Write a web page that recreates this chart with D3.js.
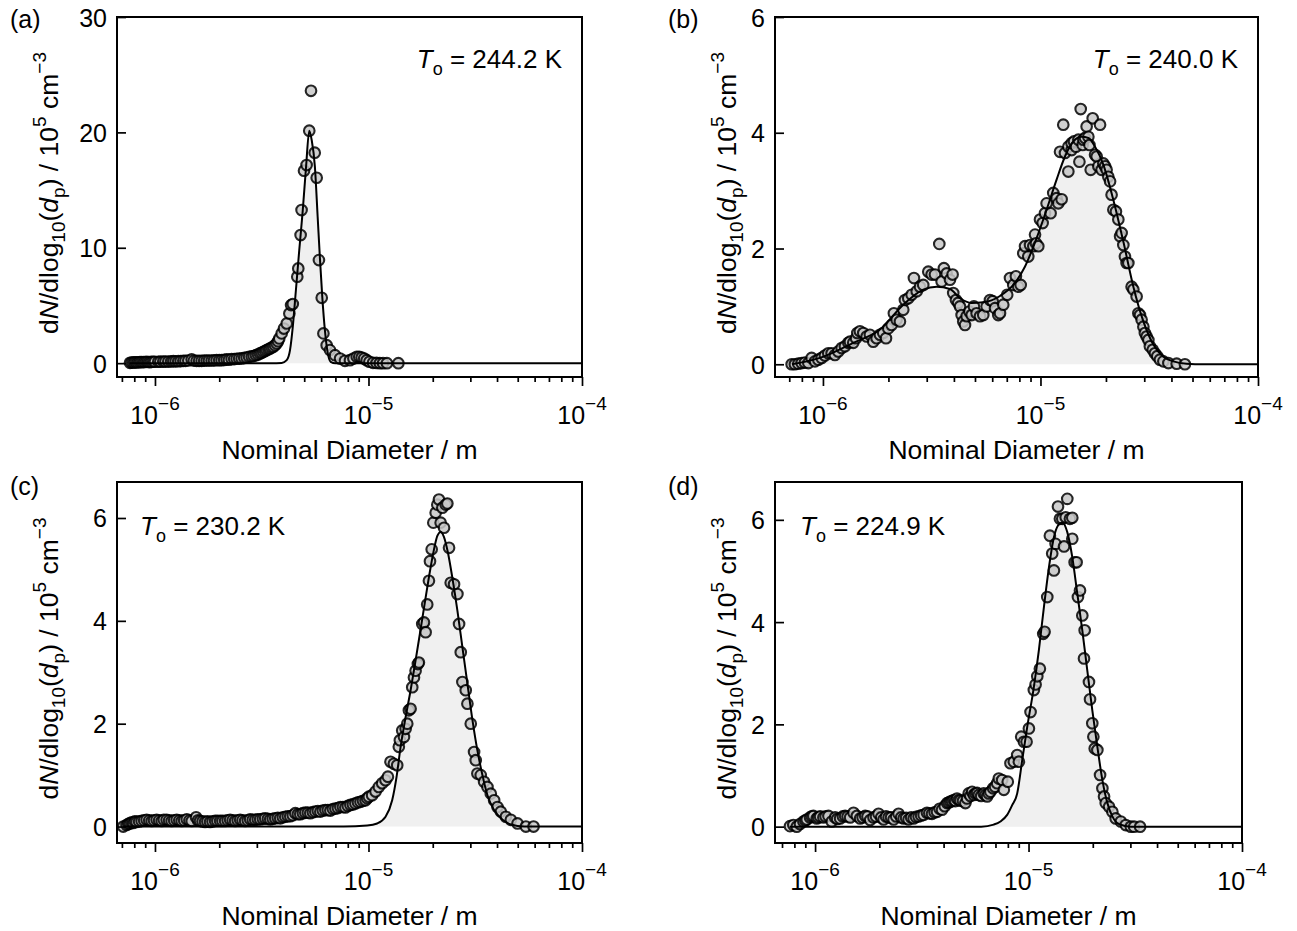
<!DOCTYPE html>
<html><head><meta charset="utf-8">
<script src="https://cdn.jsdelivr.net/npm/d3@7/dist/d3.min.js"></script>
<style>
body{margin:0;background:#fff}
svg{display:block}
text{font-family:"Liberation Sans",Arial,Helvetica,sans-serif;fill:#000}
</style>
</head><body>
<svg id="fig" width="1297" height="931"></svg>
<script>
// ---------- DATA (diameter in µm, dN/dlog10(dp) in 10^5 cm^-3) ----------
const panelLetters = ["(a)", "(b)", "(c)", "(d)"];
const onsetTemps = ["244.2", "240.0", "230.2", "224.9"];
const xMajorExponents = [-6, -5, -4];
const yTicksA = [0, 10, 20, 30];
const yTicksB = [0, 2, 4, 6];
const yTicksC = [0, 2, 4, 6];
const yTicksD = [0, 2, 4, 6];

const pointsA = [[0.764,0.03],[0.778,0.05],[0.792,0.06],[0.806,0.07],[0.821,0.06],[0.836,0.08],[0.851,0.09],[0.866,0.09],[0.882,0.09],[0.898,0.1],[0.914,0.12],[0.93,0.1],[0.947,0.09],[0.964,0.11],[0.982,0.12],[1.0,0.12],[1.036,0.12],[1.06,0.13],[1.094,0.14],[1.12,0.14],[1.155,0.14],[1.19,0.15],[1.219,0.17],[1.25,0.16],[1.286,0.17],[1.32,0.18],[1.358,0.2],[1.39,0.2],[1.433,0.23],[1.485,0.32],[1.52,0.22],[1.567,0.2],[1.61,0.2],[1.654,0.2],[1.70,0.22],[1.746,0.23],[1.79,0.23],[1.842,0.23],[1.89,0.24],[1.944,0.26],[2.0,0.26],[2.052,0.26],[2.11,0.28],[2.166,0.32],[2.22,0.3],[2.286,0.35],[2.35,0.35],[2.413,0.38],[2.48,0.4],[2.547,0.41],[2.62,0.45],[2.688,0.49],[2.76,0.55],[2.837,0.58],[2.9,0.62],[2.972,0.69],[3.04,0.75],[3.103,0.84],[3.16,0.9],[3.217,0.98],[3.28,1.05],[3.334,1.13],[3.4,1.2],[3.457,1.27],[3.52,1.35],[3.583,1.42],[3.65,1.55],[3.715,1.71],[3.77,1.9],[3.82,2.14],[3.92,2.58],[4.02,3.0],[4.14,3.44],[4.26,4.31],[4.34,5.03],[4.42,5.12],[4.64,7.49],[4.69,8.21],[4.81,11.1],[4.86,13.27],[4.99,16.68],[5.13,17.17],[5.28,20.15],[5.38,23.6],[5.60,18.24],[5.72,16.07],[5.86,8.93],[6.04,5.66],[6.15,2.58],[6.37,1.56],[6.6,1.13],[6.97,0.69],[7.36,0.4],[7.76,0.2],[8.19,0.26],[8.5,0.4],[8.81,0.55],[9.05,0.55],[9.29,0.49],[9.55,0.4],[9.81,0.26],[10.1,0.12],[10.5,0.03],[10.9,0.02],[11.3,0],[11.7,0],[12.2,0],[13.8,0]];
const fitA = [[0.76,0],[3.5,0],[3.92,0.02],[4.14,0.26],[4.29,1.13],[4.42,3.15],[4.57,6.3],[4.74,9.8],[4.92,13.2],[5.1,17.0],[5.28,20.15],[5.42,19.34],[5.61,17.03],[5.78,12.69],[5.93,8.93],[6.08,5.66],[6.25,2.86],[6.41,1.13],[6.65,0.12],[7.0,0],[100,0]];

const pointsB = [[0.718,0],[0.743,0],[0.770,0.01],[0.798,0.02],[0.826,0.03],[0.857,0.02],[0.887,0.11],[0.919,0.05],[0.952,0.08],[0.986,0.11],[1.021,0.15],[1.058,0.19],[1.096,0.19],[1.135,0.16],[1.176,0.22],[1.219,0.28],[1.262,0.31],[1.308,0.37],[1.331,0.39],[1.378,0.37],[1.419,0.45],[1.439,0.54],[1.479,0.57],[1.533,0.54],[1.588,0.48],[1.644,0.51],[1.703,0.39],[1.765,0.45],[1.828,0.51],[1.893,0.54],[1.949,0.45],[1.997,0.62],[2.069,0.68],[2.119,0.88],[2.181,0.77],[2.259,0.74],[2.340,0.94],[2.382,1.11],[2.467,1.14],[2.557,1.20],[2.620,1.49],[2.698,1.26],[2.793,1.34],[2.891,1.37],[3.050,1.60],[3.159,1.55],[3.273,1.55],[3.427,2.08],[3.512,1.43],[3.598,1.66],[3.703,1.57],[3.837,1.46],[3.945,1.55],[3.972,1.23],[4.088,1.11],[4.188,1.06],[4.266,1.00],[4.340,0.85],[4.416,0.74],[4.498,0.68],[4.576,0.83],[4.710,0.91],[4.826,0.85],[4.943,1.00],[5.087,0.88],[5.272,0.83],[5.458,0.85],[5.655,1.00],[5.861,1.11],[6.026,1.09],[6.180,0.97],[6.397,0.85],[6.516,0.88],[6.745,1.03],[7.032,1.20],[7.244,1.49],[7.499,1.37],[7.710,1.52],[7.907,1.34],[8.110,1.37],[8.337,1.92],[8.492,2.04],[8.790,1.86],[8.954,2.06],[9.272,2.04],[9.440,2.24],[9.537,2.09],[9.772,2.04],[9.95,2.50],[10.23,2.44],[10.49,2.61],[10.67,2.78],[11.13,2.61],[11.45,2.96],[11.86,2.87],[12.08,2.78],[12.30,3.67],[12.51,2.85],[12.73,4.14],[12.96,3.65],[13.43,3.33],[13.43,3.76],[13.90,3.70],[13.9,3.82],[14.26,3.85],[14.56,3.76],[14.93,3.88],[15.10,3.50],[15.31,4.41],[15.63,3.79],[15.74,3.88],[16.03,3.91],[16.30,4.11],[16.60,3.93],[16.79,3.79],[17.02,3.36],[17.38,4.25],[17.82,3.62],[18.13,3.59],[18.45,3.42],[18.79,4.14],[19.10,3.36],[19.45,3.47],[19.81,3.42],[20.14,3.36],[20.51,3.24],[20.89,3.16],[21.23,2.93],[21.63,2.67],[22.23,2.64],[22.80,2.50],[23.23,2.21],[23.61,2.27],[24.04,2.06],[24.45,1.86],[24.89,1.75],[25.35,1.75],[26.24,1.34],[26.73,1.29],[27.67,1.17],[28.18,0.88],[28.66,0.85],[29.17,0.77],[29.72,0.65],[30.20,0.54],[30.76,0.48],[31.33,0.42],[31.84,0.31],[32.81,0.25],[33.57,0.19],[34.43,0.14],[35.40,0.08],[36.73,0.05],[38.73,0.02],[42.27,0.01],[46.13,0]];
const fitB = [[0.72,0],[0.969,0.11],[1.378,0.37],[1.828,0.60],[2.340,1.03],[2.891,1.29],[3.332,1.34],[3.837,1.30],[4.266,1.14],[4.826,1.06],[5.458,1.07],[6.516,1.18],[7.499,1.37],[8.492,1.69],[9.60,2.18],[10.67,2.67],[11.86,3.19],[12.96,3.59],[14.16,3.85],[15.45,3.93],[16.60,3.91],[17.82,3.76],[19.45,3.45],[21.63,2.84],[24.04,2.12],[26.73,1.34],[29.72,0.74],[33.02,0.34],[36.73,0.13],[40.83,0.05],[46.99,0.01],[56.1,0],[100,0]];

const pointsC = [[0.710,0],[0.736,0.03],[0.75,0.05],[0.763,0.06],[0.777,0.08],[0.791,0.07],[0.805,0.1],[0.820,0.09],[0.843,0.1],[0.866,0.11],[0.89,0.12],[0.914,0.13],[0.94,0.12],[0.965,0.11],[0.99,0.12],[1.018,0.13],[1.046,0.12],[1.075,0.11],[1.10,0.13],[1.134,0.13],[1.165,0.12],[1.197,0.11],[1.23,0.12],[1.264,0.13],[1.30,0.12],[1.334,0.11],[1.37,0.12],[1.409,0.14],[1.45,0.12],[1.486,0.11],[1.558,0.18],[1.59,0.12],[1.626,0.11],[1.67,0.1],[1.717,0.09],[1.76,0.1],[1.812,0.09],[1.86,0.1],[1.913,0.11],[1.96,0.11],[2.019,0.11],[2.07,0.11],[2.131,0.11],[2.19,0.12],[2.249,0.13],[2.31,0.12],[2.374,0.11],[2.44,0.12],[2.506,0.13],[2.57,0.12],[2.645,0.11],[2.72,0.12],[2.792,0.14],[2.87,0.13],[2.948,0.13],[3.03,0.14],[3.111,0.14],[3.2,0.15],[3.284,0.16],[3.38,0.15],[3.467,0.14],[3.56,0.15],[3.659,0.16],[3.76,0.17],[3.862,0.16],[3.97,0.18],[4.076,0.19],[4.19,0.2],[4.303,0.20],[4.42,0.22],[4.542,0.26],[4.67,0.24],[4.794,0.24],[4.93,0.26],[5.060,0.27],[5.2,0.27],[5.341,0.26],[5.49,0.28],[5.637,0.29],[5.79,0.3],[5.950,0.29],[6.11,0.31],[6.281,0.32],[6.45,0.32],[6.629,0.31],[6.81,0.34],[6.997,0.35],[7.19,0.36],[7.386,0.38],[7.59,0.38],[7.795,0.37],[8.0,0.4],[8.228,0.42],[8.45,0.43],[8.685,0.45],[8.93,0.47],[9.171,0.48],[9.42,0.5],[9.68,0.51],[9.86,0.55],[10.04,0.58],[10.40,0.61],[10.79,0.68],[11.18,0.77],[11.59,0.84],[12.02,0.90],[12.33,0.97],[12.68,1.26],[13.15,1.22],[13.63,1.19],[13.87,1.55],[14.03,1.68],[14.39,1.87],[14.66,1.74],[14.93,1.90],[15.19,2.00],[15.46,2.26],[15.75,2.29],[16.03,2.71],[16.33,2.90],[16.62,3.03],[17.04,3.16],[17.22,3.19],[17.86,3.94],[18.19,3.97],[18.52,3.78],[18.84,4.32],[19.19,4.78],[19.41,5.16],[19.77,5.39],[20.12,5.91],[20.64,6.10],[21.01,6.26],[21.38,6.36],[21.78,5.91],[22.18,6.20],[22.58,5.81],[22.99,6.26],[23.41,6.28],[23.84,5.42],[24.27,4.74],[25.16,4.71],[26.09,4.52],[26.56,3.94],[27.05,3.39],[27.53,2.81],[28.54,2.65],[29.06,2.39],[30.13,2.00],[31.23,1.45],[31.79,1.29],[32.36,1.03],[33.55,1.00],[34.79,0.87],[36.07,0.77],[37.40,0.64],[38.77,0.51],[40.19,0.38],[41.67,0.29],[43.98,0.19],[46.42,0.13],[49.89,0.06],[54.6,0],[59.3,0]];
const fitC = [[0.71,0],[7.66,0],[9.86,0.02],[10.98,0.06],[12.02,0.19],[12.91,0.51],[13.54,0.97],[14.14,1.55],[14.93,2.13],[15.75,2.65],[16.62,3.23],[17.55,3.84],[18.52,4.45],[19.41,4.97],[20.27,5.39],[21.01,5.65],[21.78,5.73],[22.58,5.63],[23.55,5.33],[24.70,4.84],[26.09,4.20],[27.53,3.49],[29.06,2.78],[30.69,2.07],[32.36,1.48],[34.17,1.00],[36.07,0.61],[38.77,0.32],[42.46,0.13],[46.42,0.04],[53.6,0],[100,0]];

const pointsD = [[0.763,0.01],[0.791,0.03],[0.820,0],[0.850,0.05],[0.882,0.10],[0.9,0.12],[0.914,0.14],[0.947,0.18],[0.965,0.2],[0.982,0.21],[1.018,0.16],[1.035,0.18],[1.056,0.20],[1.094,0.18],[1.12,0.2],[1.155,0.21],[1.197,0.10],[1.241,0.18],[1.27,0.15],[1.310,0.16],[1.35,0.2],[1.383,0.21],[1.42,0.2],[1.460,0.18],[1.514,0.27],[1.569,0.21],[1.626,0.16],[1.67,0.18],[1.717,0.21],[1.76,0.2],[1.812,0.13],[1.878,0.18],[1.93,0.2],[1.983,0.25],[2.04,0.18],[2.093,0.14],[2.15,0.2],[2.210,0.18],[2.27,0.18],[2.332,0.14],[2.4,0.2],[2.461,0.25],[2.53,0.18],[2.598,0.16],[2.67,0.17],[2.742,0.14],[2.82,0.18],[2.895,0.16],[2.97,0.19],[3.055,0.20],[3.14,0.22],[3.226,0.23],[3.343,0.27],[3.43,0.26],[3.530,0.25],[3.63,0.28],[3.726,0.29],[3.83,0.35],[3.933,0.33],[4.05,0.4],[4.152,0.46],[4.23,0.47],[4.303,0.49],[4.38,0.5],[4.460,0.52],[4.54,0.5],[4.623,0.55],[4.71,0.52],[4.794,0.51],[4.93,0.5],[5.060,0.46],[5.15,0.55],[5.244,0.65],[5.34,0.6],[5.439,0.68],[5.54,0.62],[5.637,0.65],[5.74,0.66],[5.844,0.62],[6.0,0.6],[6.169,0.65],[6.28,0.62],[6.397,0.59],[6.51,0.65],[6.63,0.68],[6.826,0.75],[6.97,0.78],[7.125,0.85],[7.255,0.94],[7.523,0.91],[7.66,0.72],[7.993,0.88],[8.228,1.24],[8.532,1.27],[8.85,1.40],[9.01,1.27],[9.24,1.76],[9.51,1.66],[9.79,1.66],[10.04,1.92],[10.22,2.24],[10.59,2.67],[10.79,2.78],[10.99,2.94],[11.30,3.09],[11.72,3.77],[11.89,3.81],[12.24,4.49],[12.59,5.69],[12.91,5.34],[13.15,5.01],[13.39,5.53],[13.74,6.26],[14.03,6.02],[14.39,6.02],[14.66,5.48],[14.93,6.05],[15.19,6.41],[15.63,6.02],[16.03,6.04],[16.03,5.63],[16.44,5.17],[16.80,5.17],[17.04,4.49],[17.42,4.62],[17.86,4.13],[18.32,3.84],[18.19,3.29],[19.19,2.83],[19.41,2.49],[19.89,2.02],[20.12,1.76],[20.42,1.53],[21.01,1.50],[21.63,1.01],[22.18,0.75],[22.58,0.59],[22.99,0.46],[23.84,0.39],[24.70,0.29],[25.60,0.16],[27.05,0.10],[28.54,0.03],[30.13,0],[31.23,0],[33.32,0]];
const fitD = [[0.76,0],[6.0,0],[6.87,0.04],[7.386,0.10],[7.94,0.23],[8.38,0.42],[8.85,0.65],[9.34,1.30],[9.86,1.95],[10.59,2.73],[11.18,3.45],[11.80,4.29],[12.46,5.07],[13.15,5.66],[13.74,5.89],[14.39,5.95],[15.19,5.76],[16.03,5.27],[16.93,4.55],[17.86,3.84],[18.84,3.06],[19.89,2.28],[21.01,1.56],[22.18,0.91],[23.41,0.46],[24.70,0.20],[26.56,0.05],[30.13,0],[100,0]];

// ---------- LAYOUT ----------
const UM = 1e-6;
const FS_XTICK = 25, FS_YTICK = 25, FS_SUP = 19, FS_LABEL = 26.5, FS_YLABEL = 26.5, FS_YSUB = 19;
const panels = [
  {id:"a", points:pointsA, fit:fitA, yTicks:yTicksA, left:117, right:582, top:17, bottom:377, xmin:6.64e-7, ymin:-1.2, ymax:30,
   letterX:10, letterY:28, tempX:562, tempY:68, tempAnchor:"end", ylabX:58},
  {id:"b", points:pointsB, fit:fitB, yTicks:yTicksB, left:775, right:1258, top:17, bottom:377, xmin:6.02e-7, ymin:-0.22, ymax:6,
   letterX:668, letterY:28, tempX:1238, tempY:68, tempAnchor:"end", ylabX:736},
  {id:"c", points:pointsC, fit:fitC, yTicks:yTicksC, left:117, right:582, top:482, bottom:843, xmin:6.64e-7, ymin:-0.32, ymax:6.7,
   letterX:10, letterY:495, tempX:140, tempY:535, tempAnchor:"start", ylabX:58},
  {id:"d", points:pointsD, fit:fitD, yTicks:yTicksD, left:775, right:1242, top:482, bottom:843, xmin:6.49e-7, ymin:-0.32, ymax:6.74,
   letterX:668, letterY:495, tempX:800, tempY:535, tempAnchor:"start", ylabX:736}
];

const svg = d3.select("#fig");

panels.forEach((p, i) => {
  const x = d3.scaleLog().domain([p.xmin, 1e-4]).range([p.left, p.right]);
  const y = d3.scaleLinear().domain([p.ymin, p.ymax]).range([p.bottom, p.top]);
  const g = svg.append("g");
  const clipId = "clip-" + p.id;
  svg.append("clipPath").attr("id", clipId).append("rect")
    .attr("x", p.left).attr("y", p.top).attr("width", p.right - p.left).attr("height", p.bottom - p.top);
  const plot = g.append("g").attr("clip-path", `url(#${clipId})`);

  const area = d3.area().x(d => x(d[0] * UM)).y0(y(0)).y1(d => y(d[1])).curve(d3.curveMonotoneX);
  const line = d3.line().x(d => x(d[0] * UM)).y(d => y(d[1])).curve(d3.curveMonotoneX);

  plot.append("path").datum(p.fit).attr("d", area).attr("fill", "#f0f0f0");
  plot.append("g").selectAll("circle").data(p.points).join("circle")
    .attr("cx", d => x(d[0] * UM)).attr("cy", d => y(d[1])).attr("r", 5.3)
    .attr("fill", "#c8c8c8").attr("stroke", "#000").attr("stroke-width", 2.1).attr("opacity", 0.85);
  plot.append("path").datum(p.fit).attr("d", line).attr("fill", "none")
    .attr("stroke", "#000").attr("stroke-width", 2);

  // x axis
  const major = xMajorExponents.map(e => Math.pow(10, e));
  const minor = [];
  for (let e = -7; e <= -5; e++) for (let k = 2; k <= 9; k++) {
    const v = k * Math.pow(10, e);
    if (v >= p.xmin && v <= 1e-4) minor.push(v);
  }
  const styleAxis = s => { s.select(".domain").remove(); s.selectAll("line").attr("stroke", "#000").attr("stroke-width", 1.7); };
  g.append("g").attr("transform", `translate(0,${p.bottom})`)
    .call(d3.axisBottom(x).tickValues(major).tickSize(9).tickFormat(() => "")).call(styleAxis);
  g.append("g").attr("transform", `translate(0,${p.bottom})`)
    .call(d3.axisBottom(x).tickValues(minor).tickSize(5).tickFormat(() => "")).call(styleAxis);
  xMajorExponents.forEach((e, j) => {
    const t = g.append("text").attr("x", x(major[j])).attr("y", p.bottom + 47)
      .attr("text-anchor", "middle").attr("font-size", FS_XTICK);
    t.append("tspan").text("10");
    t.append("tspan").attr("dy", -14).attr("font-size", FS_SUP).text("\u2212" + Math.abs(e));
  });

  // y axis (ticks inward)
  const ya = g.append("g").attr("transform", `translate(${p.left},0)`)
    .call(d3.axisLeft(y).tickValues(p.yTicks).tickSizeInner(-9).tickSizeOuter(0).tickPadding(10).tickFormat(d3.format("d")));
  ya.select(".domain").remove();
  ya.selectAll("line").attr("stroke", "#000").attr("stroke-width", 1.7);
  ya.selectAll("text").attr("font-size", FS_YTICK).attr("font-family", null).attr("fill", "#000").attr("dy", "0.36em");

  // frame
  g.append("rect").attr("x", p.left).attr("y", p.top).attr("width", p.right - p.left).attr("height", p.bottom - p.top)
    .attr("fill", "none").attr("stroke", "#000").attr("stroke-width", 2);

  // x label
  g.append("text").attr("x", (p.left + p.right) / 2).attr("y", p.bottom + 82)
    .attr("text-anchor", "middle").attr("font-size", FS_LABEL).text("Nominal Diameter / m");

  // y label
  const cy = (p.top + p.bottom) / 2 - 4;
  const yl = g.append("text").attr("transform", `translate(${p.ylabX},${cy}) rotate(-90)`)
    .attr("text-anchor", "middle").attr("font-size", FS_YLABEL);
  yl.append("tspan").text("d");
  yl.append("tspan").attr("font-style", "italic").text("N");
  yl.append("tspan").text("/dlog");
  yl.append("tspan").attr("font-size", FS_YSUB).attr("dy", 7).text("10");
  yl.append("tspan").attr("dy", -7).text("(");
  yl.append("tspan").attr("font-style", "italic").text("d");
  yl.append("tspan").attr("font-size", FS_YSUB).attr("dy", 7).text("p");
  yl.append("tspan").attr("dy", -7).text(") / 10");
  yl.append("tspan").attr("font-size", FS_YSUB).attr("dy", -12).text("5");
  yl.append("tspan").attr("dy", 12).text(" cm");
  yl.append("tspan").attr("font-size", FS_YSUB).attr("dy", -12).text("\u22123");

  // panel letter
  g.append("text").attr("x", p.letterX).attr("y", p.letterY).attr("font-size", 25).text(panelLetters[i]);

  // onset temperature
  const tt = g.append("text").attr("x", p.tempX).attr("y", p.tempY).attr("text-anchor", p.tempAnchor).attr("font-size", 26);
  tt.append("tspan").attr("font-style", "italic").text("T");
  tt.append("tspan").attr("font-size", 18).attr("dy", 7).text("o");
  tt.append("tspan").attr("dy", -7).text(" = " + onsetTemps[i] + " K");
});
</script>
</body></html>
